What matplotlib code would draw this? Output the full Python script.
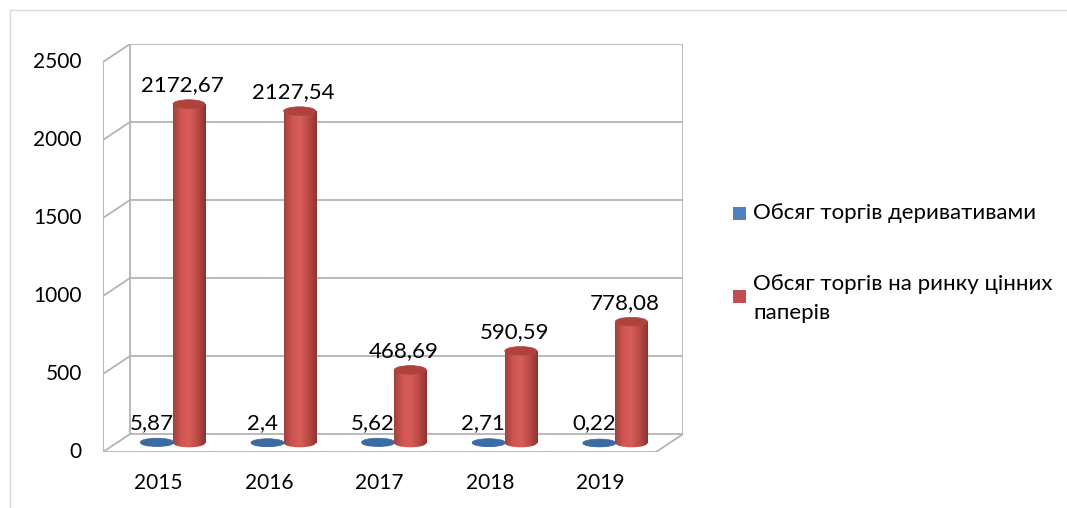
import numpy as np
import matplotlib.pyplot as plt
from matplotlib.patches import Ellipse, Rectangle
from matplotlib.colors import LinearSegmentedColormap
from matplotlib.lines import Line2D

# data
years = ['2015', '2016', '2017', '2018', '2019']
derivatives = [5.87, 2.4, 5.62, 2.71, 0.22]
securities = [2172.67, 2127.54, 468.69, 590.59, 778.08]
deriv_labels = ['5,87', '2,4', '5,62', '2,71', '0,22']
sec_labels = ['2172,67', '2127,54', '468,69', '590,59', '778,08']
legend_names = ['Обсяг торгів деривативами',
                'Обсяг торгів на ринку цінних\nпаперів']
y_ticks = [0, 500, 1000, 1500, 2000, 2500]

plt.rcParams['font.family'] = ['Lato', 'DejaVu Sans']

W, H = 1067, 508
fig = plt.figure(figsize=(W / 100, H / 100), dpi=100)
ax = fig.add_axes([103 / W, (H - 452) / H, (683 - 103) / W, (452 - 44) / H])

# fake 3d depth offset (in data units)
dx, dy = 0.244, 115
ymax = y_ticks[-1]
n = len(years)
grid_c = '#b4b4b4'

# back wall grid + side wall diagonals
for t in y_ticks:
    ax.plot([dx, n + dx], [t + dy, t + dy], color=grid_c, lw=1.3, zorder=1)
    ax.plot([0, dx], [t, t + dy], color=grid_c, lw=1.3, zorder=1)
    ax.plot([-0.054, 0], [t, t], color=grid_c, lw=1.3, zorder=1)
    ax.text(-0.19, t, str(t), ha='right', va='center', fontsize=15)
ax.plot([0, 0], [0, ymax], color=grid_c, lw=1.3, zorder=1)
ax.plot([dx, dx], [dy, ymax + dy], color=grid_c, lw=1.3, zorder=1)
ax.plot([n + dx, n + dx], [dy, ymax + dy], color=grid_c, lw=1.3, zorder=1)
# floor
ax.plot([0, n], [0, 0], color=grid_c, lw=1.3, zorder=1)
ax.plot([n, n + dx], [0, dy], color=grid_c, lw=1.3, zorder=1)
for i in range(n + 1):
    ax.plot([i, i], [0, -38], color=grid_c, lw=1.3, zorder=1)
for i, yr in enumerate(years):
    ax.text(i + 0.5, -199, yr, ha='center', va='center', fontsize=15)

red_cmap = LinearSegmentedColormap.from_list(
    'red', ['#a3403c', '#cf5651', '#d65d58', '#bb4a46', '#8f3330'])
blue_cmap = LinearSegmentedColormap.from_list(
    'blue', ['#3d6a9c', '#4f81bd', '#4a7ab3', '#355d8c'])


def cylinder(xc, v, w, eh, cmap, top_color, z):
    y0 = dy / 2
    y1 = v + dy / 2
    grad = np.linspace(0, 1, 64).reshape(1, -1)
    body = Rectangle((xc - w / 2, y0), w, y1 - y0, fc='none', ec='none')
    base = Ellipse((xc, y0), w, eh, fc='none', ec='none')
    ax.add_patch(body)
    ax.add_patch(base)
    for clip in (body, base):
        im = ax.imshow(grad, cmap=cmap, extent=(xc - w / 2, xc + w / 2, y0 - eh, y1 + 1),
                       aspect='auto', origin='lower', zorder=z, interpolation='bilinear')
        im.set_clip_path(clip)
    ax.add_patch(Ellipse((xc, y1), w, eh, fc=top_color, ec=top_color, lw=0.5, zorder=z + 0.1))
    return y1


mid = 0.5 + dx / 2
for i in range(n):
    bx = i + mid - 0.134
    top = cylinder(bx, derivatives[i], 0.30, 50, blue_cmap, '#3c6ba2', 3)
    ax.text(bx - 0.05, top + 125, deriv_labels[i], ha='center', va='center', fontsize=16, zorder=6)
    rx = i + mid + 0.156
    top = cylinder(rx, securities[i], 0.29, 55, red_cmap, '#b0423e', 4)
    ax.text(rx - 0.06, top + 120, sec_labels[i], ha='center', va='center', fontsize=16, zorder=6)

ax.set_xlim(0, n + dx)
ax.set_ylim(0, ymax + dy)
ax.axis('off')

# legend
leg_colors = ['#4f81bd', '#c0504d']
leg_y = [213, 296]
for c, yc in zip(leg_colors, leg_y):
    fig.patches.append(Rectangle((733 / W, (H - yc - 6.5) / H), 13 / W, 13 / H,
                                 transform=fig.transFigure, fc=c, ec='none'))
fig.text(753 / W, (H - 213) / H, legend_names[0], ha='left', va='center', fontsize=16)
fig.text(753 / W, (H - 274) / H, legend_names[1], ha='left', va='top',
         fontsize=16, linespacing=1.55)

# outer chart border
fig.add_artist(Line2D([10 / W, 10 / W], [0, (H - 10) / H], color='#d9d9d9', lw=1))
fig.add_artist(Line2D([10 / W, 1], [(H - 10) / H, (H - 10) / H], color='#d9d9d9', lw=1))

fig.savefig('out.png', dpi=100)
